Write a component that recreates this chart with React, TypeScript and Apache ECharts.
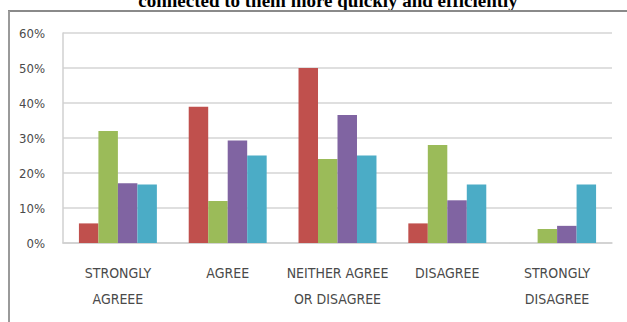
import React, { useEffect, useRef } from "react";
import * as echarts from "echarts";

const categories = ["STRONGLY\nAGREEE", "AGREE", "NEITHER AGREE\nOR DISAGREE", "DISAGREE", "STRONGLY\nDISAGREE"];
const seriesRed = [5.6, 38.9, 50, 5.6, 0];
const seriesGreen = [32, 12, 24, 28, 4];
const seriesPurple = [17.1, 29.3, 36.6, 12.2, 4.9];
const seriesTeal = [16.7, 25, 25, 16.7, 16.7];
const yTicks = [0, 10, 20, 30, 40, 50, 60];
const titleText = "connected to them more quickly and efficiently";

const labelFont = "'Liberation Sans Narrow', 'Arial Narrow', 'DejaVu Sans Condensed', sans-serif";

export default function App() {
  const ref = useRef<HTMLDivElement>(null);
  useEffect(() => {
    document.body.style.margin = "0";
    const chart = echarts.init(ref.current!, null, { renderer: "svg" });
    const mk = (name: string, data: number[], color: string) => ({
      name,
      type: "bar",
      data,
      barGap: "0%",
      barCategoryGap: "29%",
      itemStyle: { color },
    });
    chart.setOption({
      animation: false,
      backgroundColor: "#ffffff",
      grid: { left: 63, right: 15, top: 33, bottom: 79 },
      xAxis: {
        type: "category",
        data: categories,
        axisLine: { show: true, lineStyle: { color: "#d0d0d0", width: 1.5 } },
        axisTick: { show: false },
        axisLabel: {
          color: "#4a4a4a",
          fontFamily: labelFont,
          fontSize: 14,
          lineHeight: 26,
          margin: 17,
          interval: 0,
        },
      },
      yAxis: {
        type: "value",
        min: yTicks[0],
        max: yTicks[yTicks.length - 1],
        interval: 10,
        axisLine: { show: true, lineStyle: { color: "#d0d0d0", width: 1.5 } },
        axisTick: { show: false },
        splitLine: { lineStyle: { color: "#d4d4d4", width: 1.5 } },
        axisLabel: {
          formatter: "{value}%",
          color: "#4a4a4a",
          fontFamily: labelFont,
          fontSize: 13,
          margin: 18,
        },
      },
      series: [
        mk("s1", seriesRed, "#C0504D"),
        mk("s2", seriesGreen, "#9BBB59"),
        mk("s3", seriesPurple, "#8064A2"),
        mk("s4", seriesTeal, "#4BACC6"),
      ],
      graphic: [
        {
          type: "text",
          x: 328,
          y: 10,
          style: {
            text: titleText,
            fontFamily: "'Liberation Serif', 'Times New Roman', serif",
            fontWeight: "bold",
            fontSize: 19,
            fill: "#000000",
            textAlign: "center",
            textVerticalAlign: "bottom",
          },
        },
        {
          type: "line",
          shape: { x1: 8, y1: 11, x2: 627, y2: 11 },
          style: { stroke: "#8a8a8a", lineWidth: 2 },
        },
        {
          type: "line",
          shape: { x1: 9, y1: 11, x2: 9, y2: 322 },
          style: { stroke: "#9a9a9a", lineWidth: 2 },
        },
      ],
    });
    return () => chart.dispose();
  }, []);
  return <div ref={ref} style={{ width: 627, height: 322, position: "absolute", left: 0, top: 0 }} />;
}
